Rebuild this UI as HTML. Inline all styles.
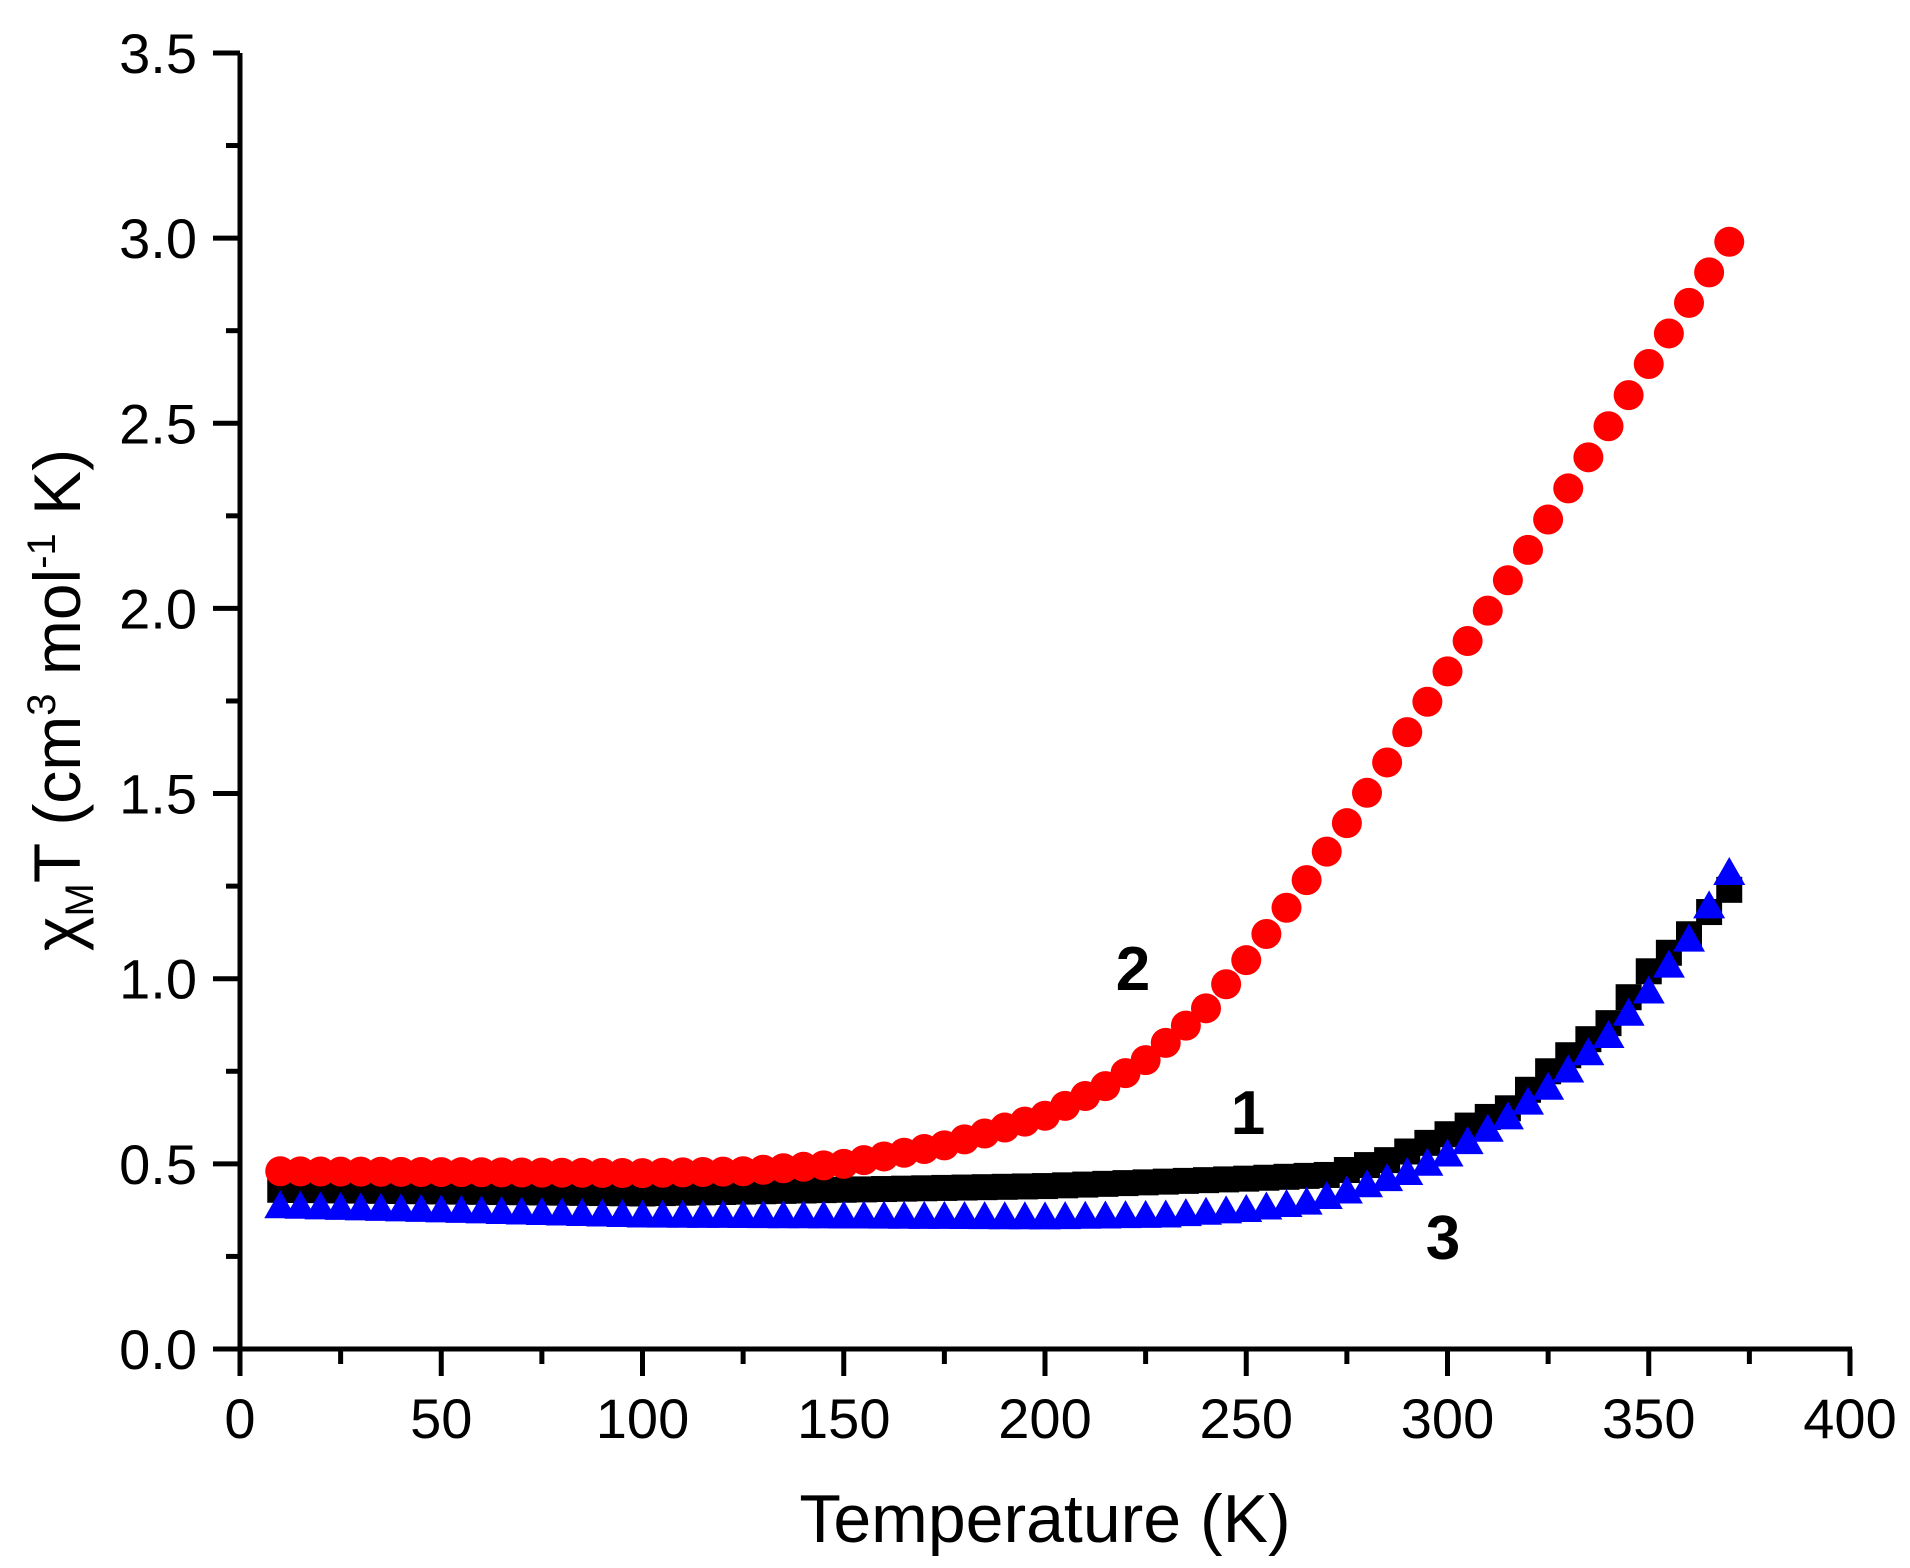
<!DOCTYPE html>
<html><head><meta charset="utf-8"><style>
html,body{margin:0;padding:0;background:#fff;}
svg{display:block;}
text{font-family:"Liberation Sans",Arial,sans-serif;}
</style></head><body>
<svg id="s" width="1910" height="1568" viewBox="0 0 1910 1568" xmlns="http://www.w3.org/2000/svg">
<g id="data"></g>
<g stroke="#000" stroke-width="5" fill="none" id="axes">
<line x1="240" y1="53" x2="240" y2="1351"/>
<line x1="238" y1="1349" x2="1852" y2="1349"/>
</g>
<g font-size="56" fill="#000" text-anchor="end" id="ylab"></g>
<g font-size="56" fill="#000" text-anchor="middle" id="xlab"></g>
<text x="1045" y="1542" font-size="68" text-anchor="middle">Temperature (K)</text>
<text transform="translate(80,700) rotate(-90)" font-size="66" text-anchor="middle">χ<tspan font-size="40" dy="13">M</tspan><tspan dy="-13">T (cm</tspan><tspan font-size="40" dy="-25">3</tspan><tspan dy="25"> mol</tspan><tspan font-size="40" dy="-25">-1</tspan><tspan dy="25"> K)</tspan></text>
<text x="1133" y="990" font-size="62" font-weight="bold" text-anchor="middle">2</text>
<text x="1248" y="1134" font-size="62" font-weight="bold" text-anchor="middle">1</text>
<text x="1443" y="1259" font-size="62" font-weight="bold" text-anchor="middle">3</text>
</svg>
<script>
var NS="http://www.w3.org/2000/svg";
function X(t){return 240+t*4.025;}
function Y(v){return 1349-v*370.3;}
function el(p,n,a){var e=document.createElementNS(NS,n);for(var k in a)e.setAttribute(k,a[k]);p.appendChild(e);return e;}
var ax=document.getElementById('axes');
for(var i=0;i<=16;i++){var x=X(i*25);el(ax,'line',{x1:x,y1:1349,x2:x,y2:i%2?1364:1376});}
for(var i=0;i<=14;i++){var y=Y(i*0.25);el(ax,'line',{x1:i%2?226:213,y1:y,x2:240,y2:y});}
var yl=document.getElementById('ylab');
for(var i=0;i<=7;i++){var t=el(yl,'text',{x:197,y:Y(i*0.5)+20});t.textContent=(i*0.5).toFixed(1);}
var xl=document.getElementById('xlab');
for(var i=0;i<=8;i++){var t=el(xl,'text',{x:X(i*50),y:1438});t.textContent=i*50;}
function interp(pts,t){for(var i=0;i<pts.length-1;i++){if(t<=pts[i+1][0]){var a=pts[i],b=pts[i+1],f=(t-a[0])/(b[0]-a[0]);return a[1]+f*(b[1]-a[1]);}}return pts[pts.length-1][1];}
var red=[[10,0.48],[100,0.475],[125,0.48],[150,0.50],[175,0.55],[200,0.63],[215,0.71],[225,0.78],[240,0.92],[250,1.05],[262,1.22],[275,1.42],[300,1.83],[325,2.24],[350,2.66],[370,2.99]];
var blk=[[10,0.43],[100,0.42],[150,0.43],[200,0.44],[250,0.46],[270,0.47],[285,0.51],[300,0.58],[315,0.65],[325,0.75],[340,0.88],[350,1.02],[360,1.12],[370,1.24]];
var blu=[[10,0.38],[100,0.355],[200,0.35],[230,0.355],[250,0.37],[265,0.39],[275,0.42],[290,0.47],[300,0.52],[315,0.62],[325,0.70],[340,0.84],[350,0.96],[360,1.1],[370,1.28]];
var g=document.getElementById('data');
for(var t=10;t<=370;t+=5){var x=X(t),y=Y(interp(blk,t));el(g,'rect',{x:x-13,y:y-13,width:26,height:26,fill:'#000'});}
for(var t=10;t<=370;t+=5){var x=X(t),y=Y(interp(red,t));el(g,'circle',{cx:x,cy:y,r:15,fill:'#ff0000'});}
for(var t=10;t<=370;t+=5){var x=X(t),y=Y(interp(blu,t));el(g,'polygon',{points:(x-16)+','+(y+10)+' '+(x+16)+','+(y+10)+' '+x+','+(y-18),fill:'#0000ff'});}
</script>
</body></html>
